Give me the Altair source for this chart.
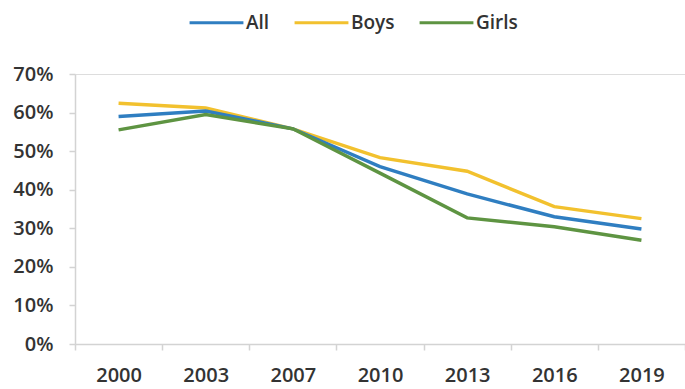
import altair as alt
import pandas as pd

# Survey years and share of pupils (%) for each group
years = ["2000", "2003", "2007", "2010", "2013", "2016", "2019"]
all_pct = [59.0, 60.4, 55.8, 46.0, 38.9, 33.0, 29.8]
boys_pct = [62.4, 61.2, 55.8, 48.3, 44.8, 35.6, 32.5]
girls_pct = [55.5, 59.5, 55.8, 44.3, 32.7, 30.4, 26.9]

groups = ["All", "Boys", "Girls"]
colors = ["#2F7EC1", "#F2C12E", "#5E9442"]

rows = []
for name, vals in zip(groups, [all_pct, boys_pct, girls_pct]):
    for y, v in zip(years, vals):
        rows.append({"year": y, "group": name, "value": v / 100})
df = pd.DataFrame(rows)

FONT = "Open Sans"
TEXT = "#333333"
AXIS = "#d3d3d3"

x_enc = alt.X(
    "year:O",
    sort=years,
    bandPosition=0.5,
    scale=alt.Scale(type="band", paddingInner=0, paddingOuter=0),
    axis=alt.Axis(
        title=None,
        labelAngle=0,
        tickBand="extent",
        domainColor=AXIS,
        domainWidth=1.5,
        tickColor=AXIS,
        tickWidth=1.5,
        tickSize=6,
        labelPadding=15,
        labelFont=FONT,
        labelFontSize=20,
        labelFontWeight=600,
        labelColor=TEXT,
        grid=False,
    ),
)

y_enc = alt.Y(
    "value:Q",
    scale=alt.Scale(domain=[0, 0.7], nice=False),
    axis=alt.Axis(
        title=None,
        format=".0%",
        values=[0, 0.1, 0.2, 0.3, 0.4, 0.5, 0.6, 0.7],
        domainColor=AXIS,
        domainWidth=1.5,
        tickColor=AXIS,
        tickWidth=1.5,
        tickSize=6,
        labelPadding=16,
        labelFont=FONT,
        labelFontSize=20,
        labelFontWeight=600,
        labelColor=TEXT,
        grid=False,
    ),
)

color_enc = alt.Color(
    "group:N",
    scale=alt.Scale(domain=groups, range=colors),
    legend=alt.Legend(
        title=None,
        orient="none",
        direction="horizontal",
        legendX=113,
        legendY=-80,
        symbolType="stroke",
        symbolSize=2900,
        symbolStrokeWidth=3,
        labelFont=FONT,
        labelFontSize=19,
        labelFontWeight=600,
        labelColor=TEXT,
        labelOffset=1,
        columnPadding=18,
    ),
)

base = alt.Chart(df).mark_line(strokeWidth=3.4).encode(
    x=x_enc, y=y_enc, color=color_enc
)

# Boys underneath, girls on top
layers = [base.transform_filter(alt.datum.group == g) for g in ["Boys", "All", "Girls"]]

chart = (
    alt.layer(*layers)
    .properties(
        width=610,
        height=270,
        autosize=alt.AutoSizeParams(type="none"),
        padding={"left": 75, "top": 74, "right": 0, "bottom": 45},
    )
    .configure_view(stroke=None)
    .configure(background="white")
)

chart.save("out.html", embed_options={"renderer": "svg", "actions": False})
